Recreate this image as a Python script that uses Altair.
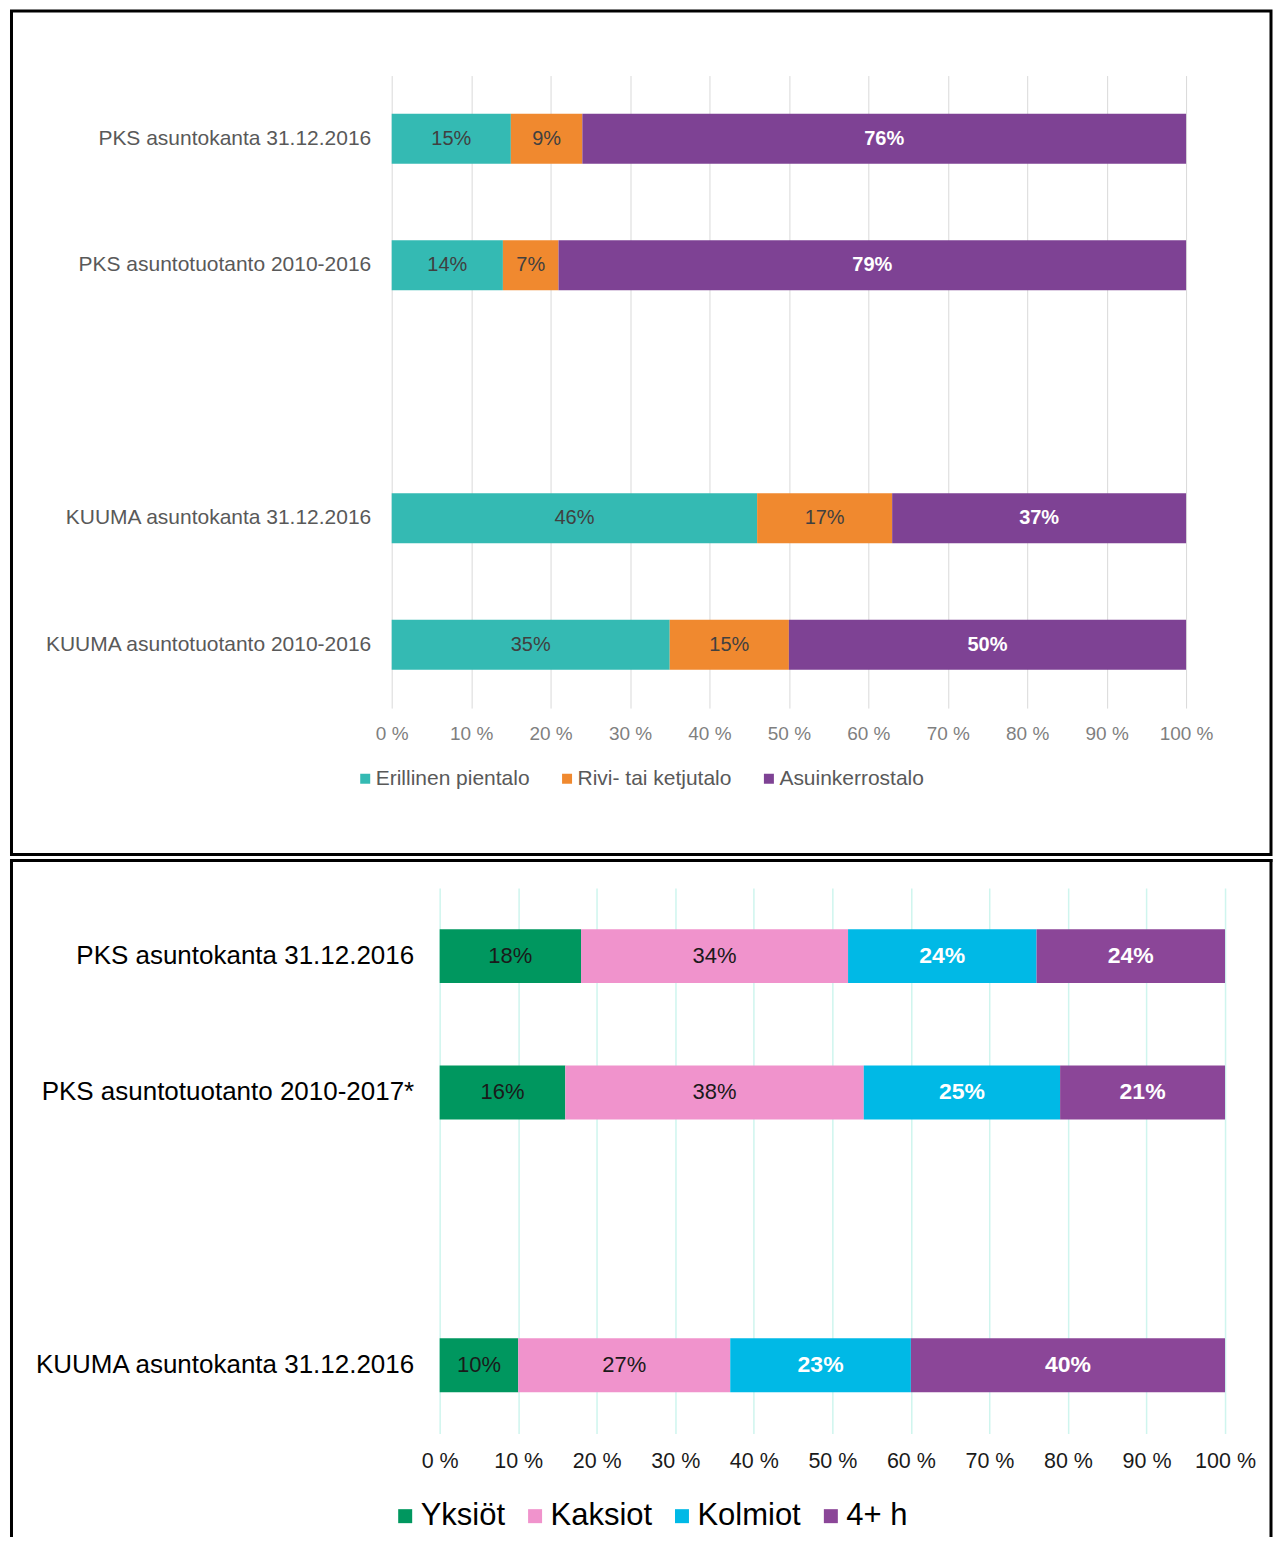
import altair as alt
import pandas as pd

FONT = "Liberation Sans"

# ---------------- Top panel data ----------------
top_cats = [
    "PKS asuntokanta 31.12.2016",
    "PKS asuntotuotanto 2010-2016",
    " ",
    "KUUMA asuntokanta 31.12.2016",
    "KUUMA asuntotuotanto 2010-2016",
]
top_series = ["Erillinen pientalo", "Rivi- tai ketjutalo", "Asuinkerrostalo"]
top_erillinen = [15, 14, 46, 35]
top_rivi = [9, 7, 17, 15]
top_kerros = [76, 79, 37, 50]
top_colors = ["#34BAB3", "#F0892F", "#7E4294"]

# ---------------- Bottom panel data ----------------
bottom_cats = [
    "PKS asuntokanta 31.12.2016",
    "PKS asuntotuotanto 2010-2017*",
    " ",
    "KUUMA asuntokanta 31.12.2016",
]
bottom_series = ["Yksiöt", "Kaksiot", "Kolmiot", "4+ h"]
bottom_yksiot = [18, 16, 10]
bottom_kaksiot = [34, 38, 27]
bottom_kolmiot = [24, 25, 23]
bottom_4h = [24, 21, 40]
bottom_colors = ["#00975F", "#F093CC", "#00B9E6", "#8B4698"]

x_ticks = [0, 10, 20, 30, 40, 50, 60, 70, 80, 90, 100]


def build_long(cats, series, values_by_series):
    data_cats = [c for c in cats if c.strip()]
    rows = []
    for si, (s, vals) in enumerate(zip(series, values_by_series)):
        for c, v in zip(data_cats, vals):
            rows.append({"cat": c, "series": s, "idx": si, "value": v})
    return pd.DataFrame(rows)


def panel(df, cats, series, colors, st):
    base = (
        alt.Chart(df)
        .transform_stack(
            stack="value",
            groupby=["cat"],
            as_=["x0", "x1"],
            sort=[alt.SortField("idx", order="ascending")],
        )
        .transform_calculate(mid="(datum.x0 + datum.x1) / 2", label="datum.value + '%'")
    )

    yscale = alt.Scale(domain=cats, paddingInner=0, paddingOuter=0)
    xscale = alt.Scale(domain=[0, 100], nice=False, zero=True, range=st["x_range"])

    y_axis = alt.Axis(
        domain=False,
        ticks=False,
        tickSize=0,
        offset=st["y_offset"],
        labelPadding=st["ylab_pad"],
        labelFontSize=st["ylab_size"],
        labelColor=st["ylab_color"],
        labelFont=FONT,
        labelLimit=600,
        grid=False,
    )
    x_axis = alt.Axis(
        values=x_ticks,
        labelExpr="datum.value + ' %'",
        domain=False,
        ticks=False,
        tickSize=0,
        labelPadding=st["xlab_pad"],
        labelFontSize=st["xlab_size"],
        labelColor=st["xlab_color"],
        labelFont=FONT,
        grid=True,
        gridColor=st["grid_color"],
        gridWidth=st["grid_width"],
        labelFlush=False,
    )

    bars = base.mark_bar(size=st["bar_size"]).encode(
        y=alt.Y("cat:N", scale=yscale, title=None, axis=y_axis),
        x=alt.X("x0:Q", scale=xscale, title=None, axis=x_axis),
        x2="x1:Q",
        color=alt.Color(
            "series:N",
            scale=alt.Scale(domain=series, range=colors),
            legend=alt.Legend(
                orient="none",
                legendX=st["leg_x"],
                legendY=st["leg_y"],
                direction="horizontal",
                title=None,
                symbolType="square",
                symbolSize=st["leg_sym"],
                symbolStrokeWidth=0,
                labelFontSize=st["leg_size"],
                labelColor=st["leg_color"],
                labelFont=FONT,
                labelOffset=st["leg_off"],
                columnPadding=st["leg_colpad"],
                padding=0,
                labelLimit=400,
            ),
        ),
    )

    def text_layer(series_sel, size, color, weight):
        return (
            base.transform_filter(alt.FieldOneOfPredicate(field="series", oneOf=series_sel))
            .mark_text(
                font=FONT,
                fontSize=size,
                color=color,
                align="center",
                baseline="middle",
                fontWeight=weight,
            )
            .encode(
                y=alt.Y("cat:N", scale=yscale, title=None, axis=y_axis),
                x=alt.X("mid:Q", scale=xscale, title=None, axis=x_axis),
                text="label:N",
            )
        )

    dark = text_layer(st["dark_series"], st["dark_size"], st["dark_color"], "normal")
    light = text_layer(st["light_series"], st["light_size"], "#FFFFFF", "bold")

    layers = [bars, dark, light] + st["frame"]
    return alt.layer(*layers).properties(width=st["w"], height=st["h"])


one = alt.Data(values=[{"k": 1}])

# frames (decoration, in pixels relative to each plot area)
FR_LEFT, FR_RIGHT = -380.5, 880

top_frame = [
    alt.Chart(one)
    .mark_rect(fillOpacity=0, stroke="#000000", strokeWidth=3)
    .encode(
        x=alt.value(FR_LEFT),
        x2=alt.value(FR_RIGHT),
        y=alt.value(-64.5),
        y2=alt.value(779.5),
    )
]

bf_top, bf_bottom = -27.5, 648
bottom_frame = [
    alt.Chart(one)
    .mark_rule(stroke="#000000", strokeWidth=3, strokeCap="square")
    .encode(x=alt.value(FR_LEFT), x2=alt.value(FR_RIGHT), y=alt.value(bf_top)),
    alt.Chart(one)
    .mark_rule(stroke="#000000", strokeWidth=3, strokeCap="square")
    .encode(x=alt.value(FR_LEFT), y=alt.value(bf_top), y2=alt.value(bf_bottom)),
    alt.Chart(one)
    .mark_rule(stroke="#000000", strokeWidth=3, strokeCap="square")
    .encode(x=alt.value(FR_RIGHT), y=alt.value(bf_top), y2=alt.value(bf_bottom)),
]

top_df = build_long(top_cats, top_series, [top_erillinen, top_rivi, top_kerros])
bottom_df = build_long(
    bottom_cats, bottom_series, [bottom_yksiot, bottom_kaksiot, bottom_kolmiot, bottom_4h]
)

top_style = dict(
    w=795, h=633, bar_size=50, x_range=[0, 795], y_offset=0,
    ylab_pad=21, ylab_size=21, ylab_color="#595959",
    xlab_pad=16, xlab_size=19, xlab_color="#7F7F7F",
    grid_color="#D9D9D9", grid_width=1,
    leg_x=-37, leg_y=693, leg_sym=100, leg_size=21, leg_color="#595959",
    leg_off=0, leg_colpad=26,
    dark_series=["Erillinen pientalo", "Rivi- tai ketjutalo"],
    light_series=["Asuinkerrostalo"],
    dark_size=20, dark_color="#404040", light_size=20,
    frame=top_frame,
)

# bottom plot area starts at the same x as the top one; its 0 % sits 48 px further right
bottom_style = dict(
    w=834, h=546, bar_size=54, x_range=[48, 834], y_offset=-48,
    ylab_pad=26, ylab_size=26, ylab_color="#000000",
    xlab_pad=17, xlab_size=21.5, xlab_color="#1A1A1A",
    grid_color="#CFF5EE", grid_width=1.5,
    leg_x=-2, leg_y=613, leg_sym=196, leg_size=31, leg_color="#000000",
    leg_off=0, leg_colpad=14,
    dark_series=["Yksiöt", "Kaksiot"],
    light_series=["Kolmiot", "4+ h"],
    dark_size=22, dark_color="#1A1A1A", light_size=23,
    frame=bottom_frame,
)

top = panel(top_df, top_cats, top_series, top_colors, top_style)
bottom = panel(bottom_df, bottom_cats, bottom_series, bottom_colors, bottom_style)

chart = (
    alt.vconcat(top, bottom, spacing=0)
    .resolve_scale(color="independent", x="independent", y="independent")
    .properties(padding=0)
    .configure(font=FONT)
    .configure_view(stroke="transparent")
)

chart.save("out.html", embed_options={"renderer": "svg", "actions": False})
